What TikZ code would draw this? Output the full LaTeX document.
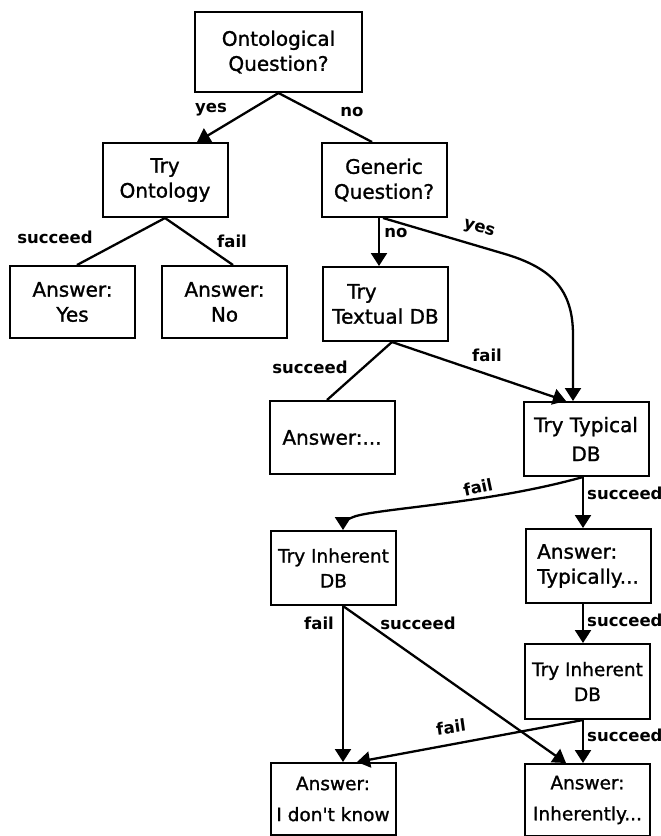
\documentclass[tikz,border=0pt]{standalone}
\usepackage{fontspec}
\setmainfont{DejaVu Sans}
\newfontfamily\boxfont{DejaVu Sans}[FakeBold=1.2]
\usetikzlibrary{arrows.meta,calc}
\begin{document}
\begin{tikzpicture}[x=1pt,y=-1pt,
  box/.style={draw, line width=2pt, minimum width=125pt, minimum height=74pt, inner sep=0pt,
    font=\boxfont\fontsize{20}{25}\selectfont, align=center},
  tight/.style={font=\boxfont\fontsize{18.5}{25}\selectfont},
  conn/.style={line width=2.3pt},
  arr/.style={conn, -{Triangle[width=16pt,length=13pt]}},
  lbl/.style={font=\bfseries\fontsize{16.5}{19}\selectfont, inner sep=0pt}]
\useasboundingbox (0,0) rectangle (661,836);
% boxes
\node[box, minimum width=167pt, minimum height=80pt] (onto) at (278.5,52) {Ontological\\Question?};
\node[box] (tryont) at (165,180) {Try\\Ontology};
\node[box] (generic) at (384,180) {Generic\\Question?};
\node[box, minimum height=72pt] (ansyes) at (72.5,302) {Answer:\\Yes};
\node[box, minimum height=72pt] (ansno) at (224.5,302) {Answer:\\No};
\node[box, align=left] (textual) at (385.5,304) {\hspace*{15pt}Try\\Textual DB};
\node[box, minimum height=73pt] (ansdots) at (332,437.5) {Answer:...};
\node[box] (typical) at (586,439) {Try Typical\\[4pt]DB};
\node[box, tight] (inhL) at (333.5,568) {Try Inherent\\DB};
\node[box, align=left] (typically) at (588,566) {Answer:\\Typically...};
\node[box, tight, minimum height=75pt] (inhR) at (587.5,681.5) {Try Inherent\\DB};
\node[box, tight, minimum height=72pt] (idk) at (333,799) {Answer:\\[6pt]I don't know};
\node[box, tight, minimum height=72pt] (inherently) at (587.5,800) {Answer:\\[6pt]Inherently...};
% helper coordinates
\coordinate (y1) at (505,254);
\coordinate (y2) at (573,335);
\coordinate (f1) at (356,516);
% connectors
\draw[arr] (onto.south) -- ([xshift=32pt]tryont.north);
\draw[conn] (onto.south) -- ([xshift=-12pt]generic.north);
\draw[conn] (tryont.south) -- ([xshift=4.5pt]ansyes.north);
\draw[conn] (tryont.south) -- ([xshift=8.5pt]ansno.north);
\draw[arr] ([xshift=-5pt]generic.south) -- ([xshift=-6.5pt]textual.north);
\draw[arr] ([xshift=-1pt]generic.south) -- (y1) .. controls (552,268) and (573,290) .. (y2) -- ([xshift=-13pt]typical.north);
\draw[conn] ([xshift=6.5pt]textual.south) -- ([xshift=-5pt]ansdots.north);
\draw[arr] ([xshift=6.5pt]textual.south) -- ([xshift=-20pt]typical.north);
\draw[arr] ([xshift=-3pt]typical.south) .. controls (490,503) and (385,508) .. (f1) .. controls (347,519) and (343,523) .. ([xshift=9.5pt]inhL.north);
\draw[arr] ([xshift=-3pt]typical.south) -- ([xshift=-5pt]typically.north);
\draw[arr] ([xshift=-5pt]typically.south) -- ([xshift=-4.5pt]inhR.north);
\draw[arr] ([xshift=9.5pt]inhL.south) -- ([xshift=10pt]idk.north);
\draw[arr] ([xshift=9.5pt]inhL.south) -- ([xshift=-21.5pt]inherently.north);
\draw[arr] ([xshift=-4.5pt]inhR.south) -- ([xshift=24pt]idk.north);
\draw[arr] ([xshift=-4.5pt]inhR.south) -- ([xshift=-4.5pt]inherently.north);
% labels
\node[lbl] (l1) at (211,110) {yes};
\node[lbl] (l2) at (352,112) {no};
\node[lbl] (l3) at (55,237) {succeed};
\node[lbl] (l4) at (232,241) {fail};
\node[lbl] (l5) at (396,233) {no};
\node[lbl, rotate=-17] (l6) at (479,229) {yes};
\node[lbl] (l7) at (310,367) {succeed};
\node[lbl] (l8) at (487,355) {fail};
\node[lbl, rotate=12] (l9) at (478,487) {fail};
\node[lbl, anchor=west] (l10) at (587,493) {succeed};
\node[lbl, anchor=west] (l11) at (587,620) {succeed};
\node[lbl] (l12) at (319,623) {fail};
\node[lbl] (l13) at (418,623) {succeed};
\node[lbl, rotate=8] (l14) at (451,727) {fail};
\node[lbl, anchor=west] (l15) at (587,735) {succeed};
\end{tikzpicture}
\end{document}
